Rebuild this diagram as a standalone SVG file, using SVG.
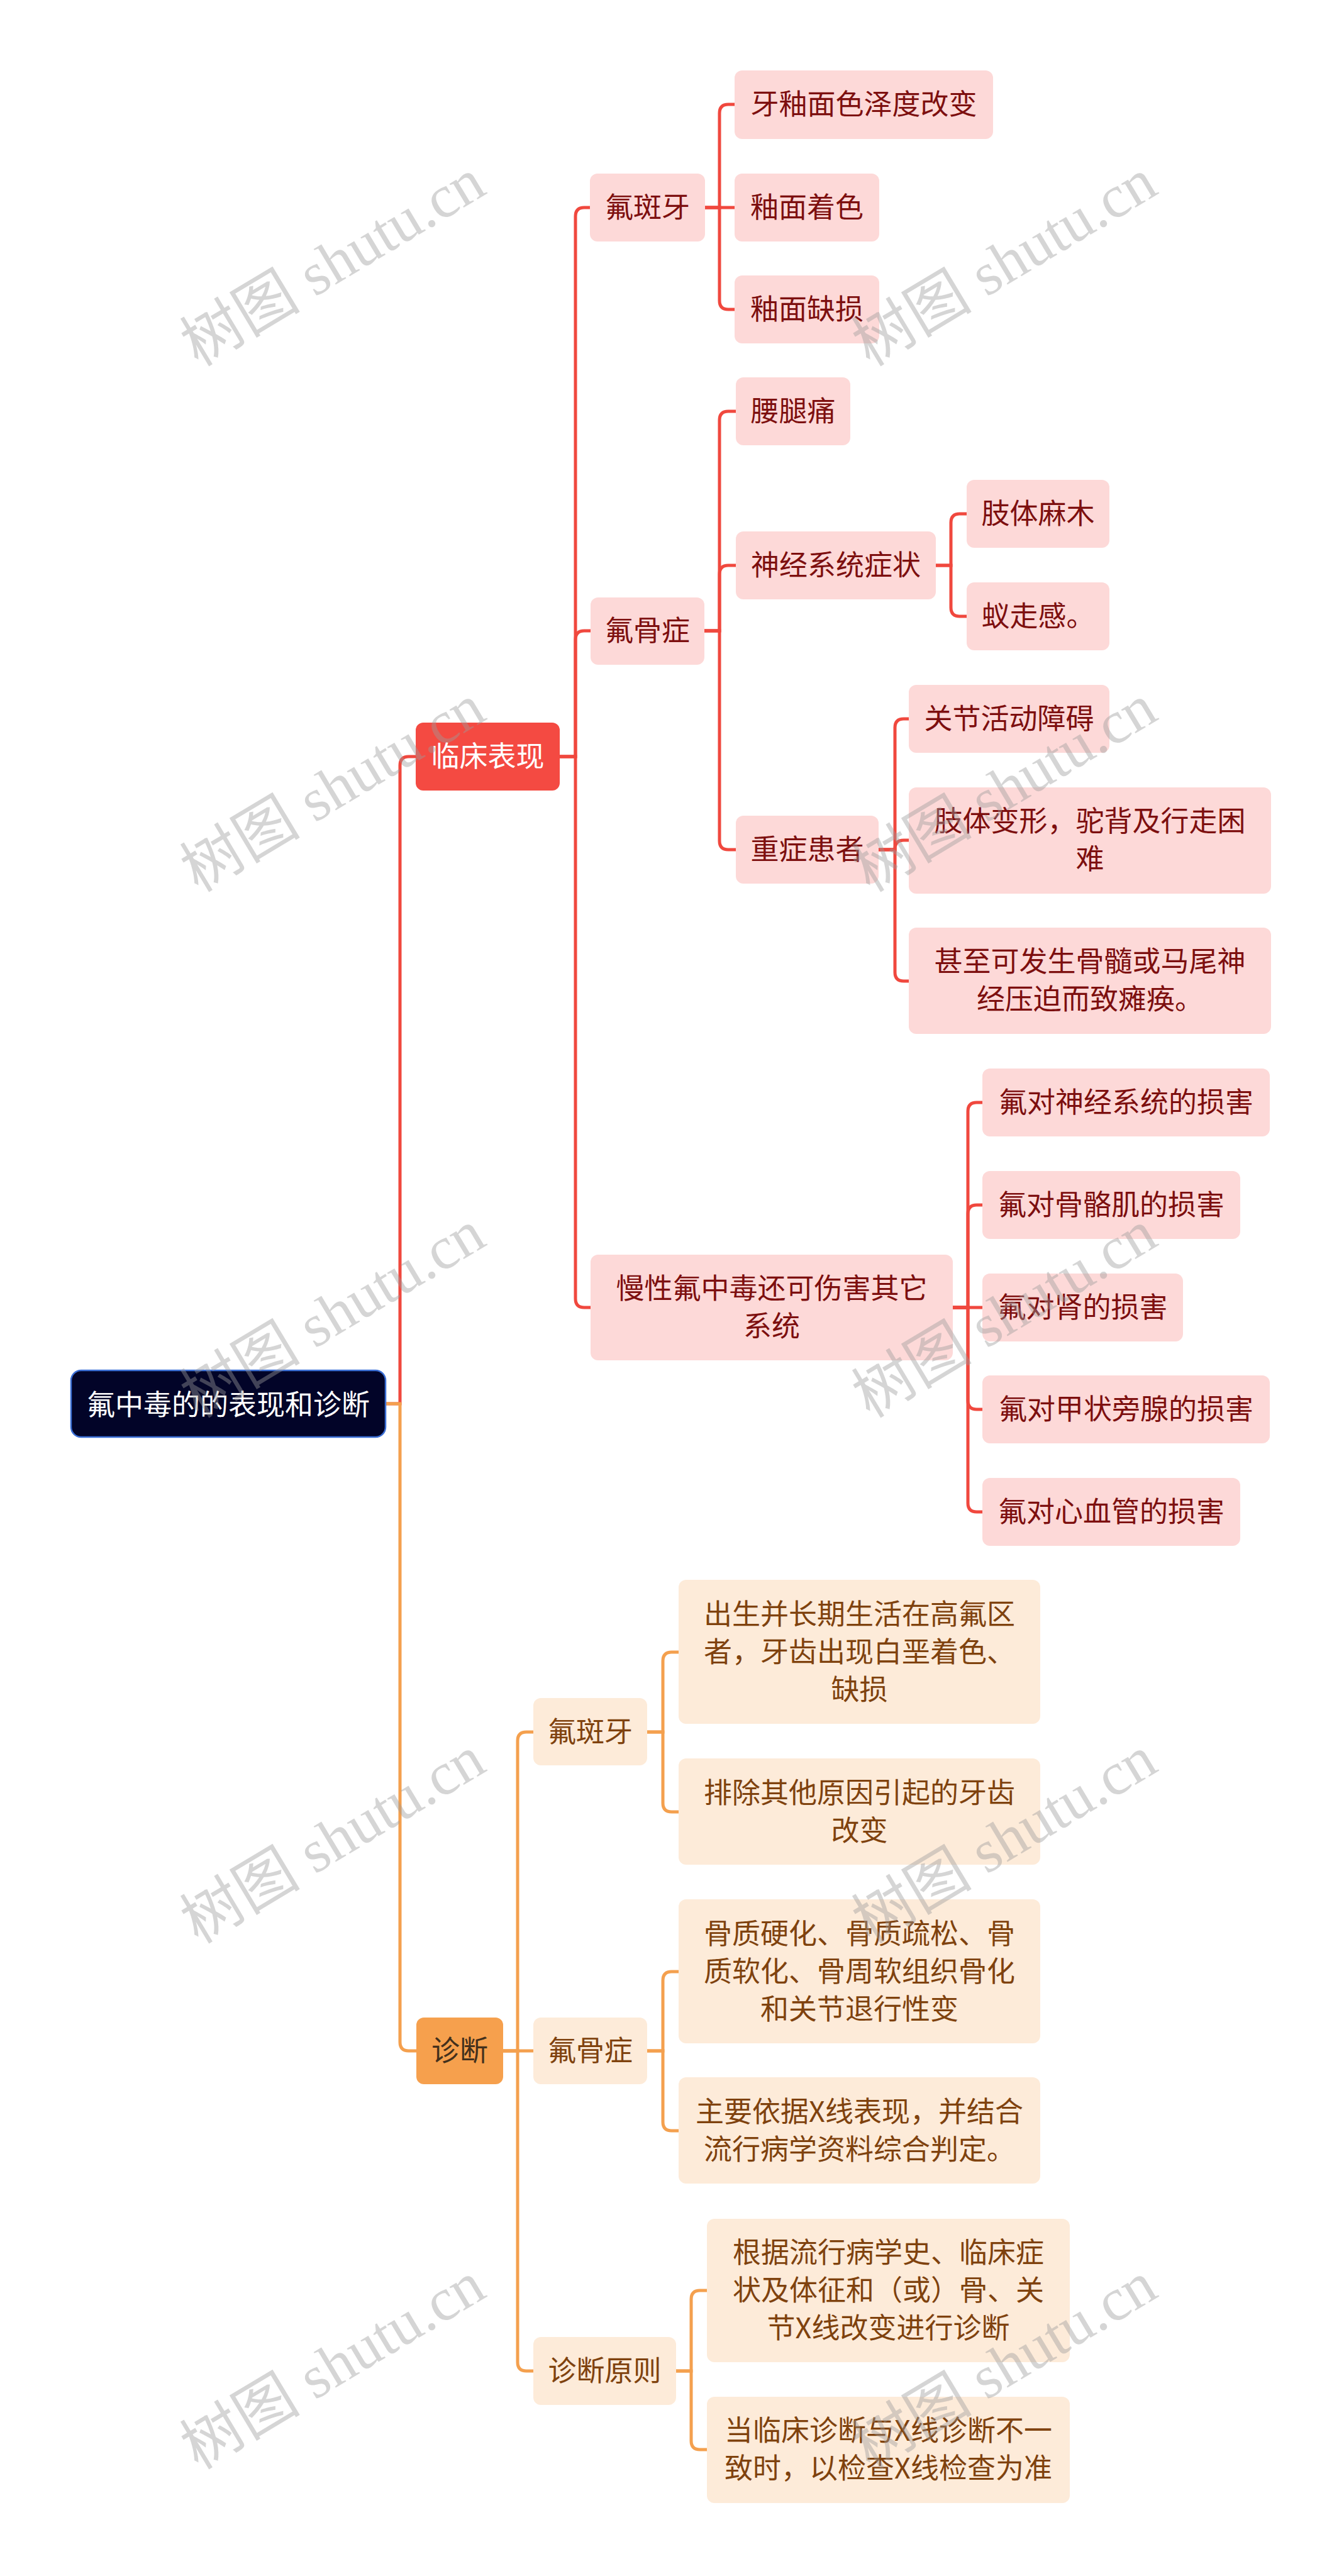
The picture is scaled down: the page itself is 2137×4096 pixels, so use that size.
<svg xmlns="http://www.w3.org/2000/svg" width="2137" height="4096" viewBox="0 0 2137 4096">
<style>
.t{font-family:"Noto Sans CJK SC","Noto Sans",sans-serif;font-size:45px;text-anchor:middle}
.rt{fill:#7d0f0f}
.ot{fill:#7f420e}
.pk{fill:#fdd9d8}
.pc{fill:#fdebd9}
.lr{fill:none;stroke:#f0483e;stroke-width:5}
.lo{fill:none;stroke:#f4a04e;stroke-width:5}
.wm{font-family:"Liberation Serif","Noto Sans CJK SC",serif;font-size:96px;fill:#9a9a9a;fill-opacity:0.42}
</style>
<rect width="2137" height="4096" fill="#ffffff"/>
<g id="connectors">
<path class="lr" d="M613,2232 H636 V1217 Q636,1203 650,1203 H661"/>
<path class="lr" d="M890,1203 H915 V344 Q915,330 929,330 H938"/>
<path class="lr" d="M890,1203 H915 V1017 Q915,1003 929,1003 H939"/>
<path class="lr" d="M890,1203 H915 V2065 Q915,2079 929,2079 H939"/>
<path class="lr" d="M1121,330 H1144 V180 Q1144,166 1158,166 H1168"/>
<path class="lr" d="M1121,330 H1168"/>
<path class="lr" d="M1121,330 H1144 V478 Q1144,492 1158,492 H1168"/>
<path class="lr" d="M1120,1003 H1144 V668 Q1144,654 1158,654 H1170"/>
<path class="lr" d="M1120,1003 H1144 V913 Q1144,899 1158,899 H1170"/>
<path class="lr" d="M1120,1003 H1144 V1337 Q1144,1351 1158,1351 H1170"/>
<path class="lr" d="M1488,899 H1512 V831 Q1512,817 1526,817 H1537"/>
<path class="lr" d="M1488,899 H1512 V966 Q1512,980 1526,980 H1537"/>
<path class="lr" d="M1397,1351 H1423 V1157 Q1423,1143 1437,1143 H1445"/>
<path class="lr" d="M1397,1351 H1423 V1350 Q1423,1336 1437,1336 H1445"/>
<path class="lr" d="M1397,1351 H1423 V1546 Q1423,1560 1437,1560 H1445"/>
<path class="lr" d="M1515,2079 H1539 V1767 Q1539,1753 1553,1753 H1562"/>
<path class="lr" d="M1515,2079 H1539 V1930 Q1539,1916 1553,1916 H1562"/>
<path class="lr" d="M1515,2079 H1562"/>
<path class="lr" d="M1515,2079 H1539 V2227 Q1539,2241 1553,2241 H1562"/>
<path class="lr" d="M1515,2079 H1539 V2390 Q1539,2404 1553,2404 H1562"/>
<path class="lo" d="M613,2232 H636 V3247 Q636,3261 650,3261 H662"/>
<path class="lo" d="M800,3261 H823 V2768 Q823,2754 837,2754 H848"/>
<path class="lo" d="M800,3261 H848"/>
<path class="lo" d="M800,3261 H823 V3756 Q823,3770 837,3770 H848"/>
<path class="lo" d="M1029,2754 H1054 V2641 Q1054,2627 1068,2627 H1079"/>
<path class="lo" d="M1029,2754 H1054 V2867 Q1054,2881 1068,2881 H1079"/>
<path class="lo" d="M1029,3261 H1054 V3149 Q1054,3135 1068,3135 H1079"/>
<path class="lo" d="M1029,3261 H1054 V3374 Q1054,3388 1068,3388 H1079"/>
<path class="lo" d="M1075,3770 H1099 V3656 Q1099,3642 1113,3642 H1124"/>
<path class="lo" d="M1075,3770 H1099 V3881 Q1099,3895 1113,3895 H1124"/>
</g>
<g id="root"><rect x="113" y="2179" width="500" height="106" rx="16" fill="#020428" stroke="#3b6fd6" stroke-width="2.5"/><text class="t" x="363" y="2250" font-size="50" fill="#ffffff">氟中毒的的表现和诊断</text></g>
<g id="n-linchuang"><rect x="661" y="1149" width="229" height="108" rx="12" fill="#f44a42"/><text class="t" x="775.5" y="1219" fill="#ffffff">临床表现</text></g>
<g id="n-zhenduan"><rect x="662" y="3208" width="138" height="106" rx="12" fill="#f6a04d"/><text class="t" x="731" y="3277" fill="#43301c">诊断</text></g>
<g id="n-fbya"><rect class="pk" x="938" y="276" width="183" height="108" rx="12"/><text class="t rt" x="1029.5" y="346">氟斑牙</text></g>
<g id="n-fgz"><rect class="pk" x="939" y="950" width="181" height="107" rx="12"/><text class="t rt" x="1029.5" y="1019">氟骨症</text></g>
<g id="n-mx"><rect class="pk" x="939" y="1995" width="576" height="168" rx="12"/><text class="t rt" x="1227" y="2065">慢性氟中毒还可伤害其它</text><text class="t rt" x="1227" y="2125">系统</text></g>
<g id="n-c1"><rect class="pk" x="1168" y="112" width="411" height="109" rx="12"/><text class="t rt" x="1373.5" y="182">牙釉面色泽度改变</text></g>
<g id="n-c2"><rect class="pk" x="1168" y="276" width="230" height="108" rx="12"/><text class="t rt" x="1283" y="346">釉面着色</text></g>
<g id="n-c3"><rect class="pk" x="1168" y="438" width="230" height="108" rx="12"/><text class="t rt" x="1283" y="508">釉面缺损</text></g>
<g id="n-c4"><rect class="pk" x="1170" y="600" width="182" height="108" rx="12"/><text class="t rt" x="1261" y="670">腰腿痛</text></g>
<g id="n-c5"><rect class="pk" x="1170" y="845" width="318" height="108" rx="12"/><text class="t rt" x="1329" y="915">神经系统症状</text></g>
<g id="n-c6"><rect class="pk" x="1170" y="1297" width="227" height="108" rx="12"/><text class="t rt" x="1283.5" y="1367">重症患者</text></g>
<g id="n-c7"><rect class="pk" x="1537" y="763" width="227" height="108" rx="12"/><text class="t rt" x="1650.5" y="833">肢体麻木</text></g>
<g id="n-c8"><rect class="pk" x="1537" y="926" width="227" height="108" rx="12"/><text class="t rt" x="1650.5" y="996">蚁走感。</text></g>
<g id="n-c9"><rect class="pk" x="1445" y="1089" width="319" height="108" rx="12"/><text class="t rt" x="1604.5" y="1159">关节活动障碍</text></g>
<g id="n-c10"><rect class="pk" x="1445" y="1252" width="576" height="169" rx="12"/><text class="t rt" x="1733" y="1322">肢体变形，驼背及行走困</text><text class="t rt" x="1733" y="1382">难</text></g>
<g id="n-c11"><rect class="pk" x="1445" y="1475" width="576" height="169" rx="12"/><text class="t rt" x="1733" y="1545">甚至可发生骨髓或马尾神</text><text class="t rt" x="1733" y="1605">经压迫而致瘫痪。</text></g>
<g id="n-c12"><rect class="pk" x="1562" y="1699" width="457" height="108" rx="12"/><text class="t rt" x="1790.5" y="1769">氟对神经系统的损害</text></g>
<g id="n-c13"><rect class="pk" x="1562" y="1862" width="410" height="108" rx="12"/><text class="t rt" x="1767" y="1932">氟对骨骼肌的损害</text></g>
<g id="n-c14"><rect class="pk" x="1562" y="2025" width="319" height="108" rx="12"/><text class="t rt" x="1721.5" y="2095">氟对肾的损害</text></g>
<g id="n-c15"><rect class="pk" x="1562" y="2187" width="457" height="108" rx="12"/><text class="t rt" x="1790.5" y="2257">氟对甲状旁腺的损害</text></g>
<g id="n-c16"><rect class="pk" x="1562" y="2350" width="410" height="108" rx="12"/><text class="t rt" x="1767" y="2420">氟对心血管的损害</text></g>
<g id="n-d1"><rect class="pc" x="848" y="2700" width="181" height="107" rx="12"/><text class="t ot" x="938.5" y="2770">氟斑牙</text></g>
<g id="n-d2"><rect class="pc" x="848" y="3208" width="181" height="106" rx="12"/><text class="t ot" x="938.5" y="3277">氟骨症</text></g>
<g id="n-d3"><rect class="pc" x="848" y="3716" width="227" height="108" rx="12"/><text class="t ot" x="961.5" y="3786">诊断原则</text></g>
<g id="n-d4"><rect class="pc" x="1079" y="2512" width="575" height="229" rx="12"/><text class="t ot" x="1366.5" y="2583">出生并长期生活在高氟区</text><text class="t ot" x="1366.5" y="2643">者，牙齿出现白垩着色、</text><text class="t ot" x="1366.5" y="2703">缺损</text></g>
<g id="n-d5"><rect class="pc" x="1079" y="2796" width="575" height="169" rx="12"/><text class="t ot" x="1366.5" y="2867">排除其他原因引起的牙齿</text><text class="t ot" x="1366.5" y="2927">改变</text></g>
<g id="n-d6"><rect class="pc" x="1079" y="3020" width="575" height="229" rx="12"/><text class="t ot" x="1366.5" y="3091">骨质硬化、骨质疏松、骨</text><text class="t ot" x="1366.5" y="3151">质软化、骨周软组织骨化</text><text class="t ot" x="1366.5" y="3211">和关节退行性变</text></g>
<g id="n-d7"><rect class="pc" x="1079" y="3303" width="575" height="169" rx="12"/><text class="t ot" x="1366.5" y="3374">主要依据X线表现，并结合</text><text class="t ot" x="1366.5" y="3434">流行病学资料综合判定。</text></g>
<g id="n-d8"><rect class="pc" x="1124" y="3528" width="577" height="228" rx="12"/><text class="t ot" x="1412.5" y="3598">根据流行病学史、临床症</text><text class="t ot" x="1412.5" y="3658">状及体征和（或）骨、关</text><text class="t ot" x="1412.5" y="3718">节X线改变进行诊断</text></g>
<g id="n-d9"><rect class="pc" x="1124" y="3811" width="577" height="169" rx="12"/><text class="t ot" x="1412.5" y="3881">当临床诊断与X线诊断不一</text><text class="t ot" x="1412.5" y="3941">致时，以检查X线检查为准</text></g>
<g id="watermarks">
<text class="wm" x="315" y="584" transform="rotate(-31 315 584)">树图 shutu.cn</text>
<text class="wm" x="1383" y="584" transform="rotate(-31 1383 584)">树图 shutu.cn</text>
<text class="wm" x="315" y="1420" transform="rotate(-31 315 1420)">树图 shutu.cn</text>
<text class="wm" x="1383" y="1420" transform="rotate(-31 1383 1420)">树图 shutu.cn</text>
<text class="wm" x="315" y="2256" transform="rotate(-31 315 2256)">树图 shutu.cn</text>
<text class="wm" x="1383" y="2256" transform="rotate(-31 1383 2256)">树图 shutu.cn</text>
<text class="wm" x="315" y="3092" transform="rotate(-31 315 3092)">树图 shutu.cn</text>
<text class="wm" x="1383" y="3092" transform="rotate(-31 1383 3092)">树图 shutu.cn</text>
<text class="wm" x="315" y="3928" transform="rotate(-31 315 3928)">树图 shutu.cn</text>
<text class="wm" x="1383" y="3928" transform="rotate(-31 1383 3928)">树图 shutu.cn</text>
</g>
</svg>
